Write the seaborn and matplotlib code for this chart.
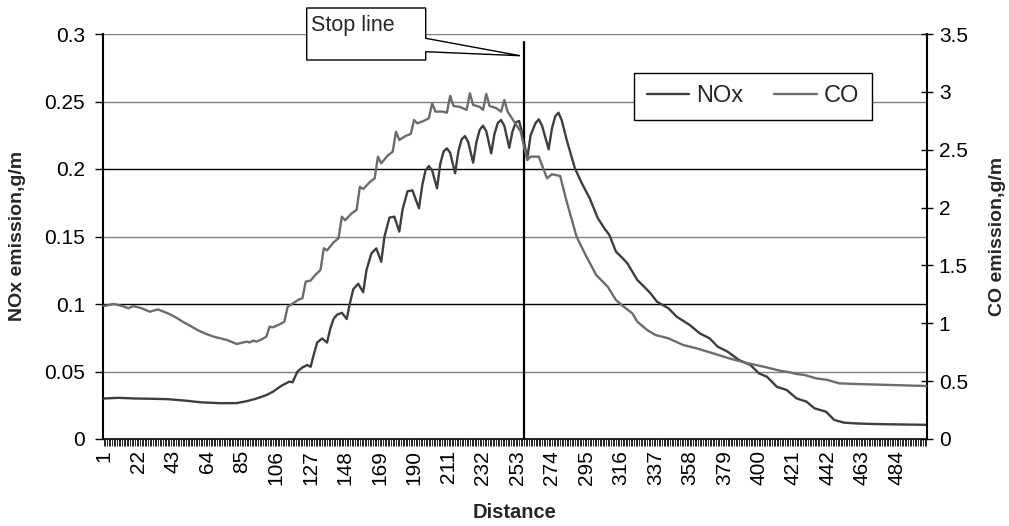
import numpy as np
import pandas as pd
import matplotlib
matplotlib.use("Agg")
import matplotlib.pyplot as plt
import seaborn as sns
from matplotlib.patches import Polygon
from matplotlib.ticker import FixedLocator, FuncFormatter

# ---------------- data ----------------
n_categories = 502

nox_distance = [1, 10, 20, 30, 40, 50, 60, 72, 82, 88, 93, 100, 104, 109, 114, 116,
                119, 122, 125, 127, 129, 131, 134, 137, 139, 141, 143, 146, 149,
                151, 153, 156, 159, 161, 164, 167, 170, 172, 175, 178, 181, 183,
                186, 189, 193, 195, 197, 199, 201, 204, 206, 208, 210, 212, 215,
                217, 219, 221, 223, 226, 228, 230, 232, 234, 237, 239, 241, 243,
                245, 248, 250, 252, 254, 256, 259, 261, 264, 266, 268, 272, 274,
                276, 278, 280, 283, 288, 292, 297, 302, 306, 309, 313, 317, 320,
                326, 330, 334, 338, 345, 350, 358, 364, 370, 375, 381, 388, 395,
                400, 405, 411, 417, 423, 429, 434, 441, 446, 452, 460, 470, 485, 502]
nox_values = [0.0300, 0.0305, 0.0300, 0.0298, 0.0295, 0.0285, 0.0272, 0.0265, 0.0266,
              0.0280, 0.0296, 0.0325, 0.0350, 0.0393, 0.0425, 0.0420,
              0.0500, 0.0530, 0.0548, 0.0535, 0.0630, 0.0715, 0.0745, 0.0714,
              0.0820, 0.0890, 0.0920, 0.0935, 0.0889,
              0.1010, 0.1110, 0.1150, 0.1087, 0.1250, 0.1375, 0.1412, 0.1313,
              0.1500, 0.1640, 0.1647, 0.1536, 0.1700,
              0.1835, 0.1842, 0.1709, 0.1880, 0.1990, 0.2022, 0.1990, 0.1857,
              0.2040, 0.2130, 0.2153, 0.2120, 0.1968,
              0.2130, 0.2220, 0.2244, 0.2200, 0.2047, 0.2200, 0.2290, 0.2321,
              0.2280, 0.2116, 0.2260, 0.2340, 0.2363,
              0.2320, 0.2158, 0.2280, 0.2345, 0.2356, 0.2260, 0.2080, 0.2250,
              0.2340, 0.2368, 0.2320, 0.2146, 0.2300,
              0.2390, 0.2417, 0.2360, 0.2215, 0.2005, 0.1900, 0.1783, 0.1635,
              0.1560, 0.1511, 0.1388, 0.1340, 0.1301,
              0.1178, 0.1130, 0.1080, 0.1017, 0.0968, 0.0906, 0.0844, 0.0783,
              0.0746, 0.0684, 0.0647, 0.0585, 0.0548,
              0.0487, 0.0461, 0.0387, 0.0363, 0.0301, 0.0277, 0.0227, 0.0202,
              0.0141, 0.0121, 0.0115, 0.0111, 0.0108, 0.0105]

co_distance = [1, 7, 12, 16, 19, 24, 29, 34, 40, 45, 49, 54, 58, 63, 68, 72, 76, 82,
               86, 88, 90, 92, 94, 97, 100, 102, 104, 108, 111, 113, 116, 120, 122,
               124, 127, 130, 133, 135, 137, 141, 144, 146, 148, 152, 155, 157, 159,
               163, 166, 168, 170, 174, 177, 179, 181, 185, 188, 190, 192, 196, 199,
               201, 203, 207, 210, 212, 214, 218, 222, 224, 226, 230, 232, 234, 236,
               240, 243, 245, 247, 251, 255, 257, 259, 261, 266, 271, 274, 279, 283,
               289, 295, 301, 308, 313, 318, 323, 326, 332, 337, 345, 354, 362, 372,
               382, 392, 403, 413, 419, 423, 428, 435, 442, 449, 460, 480, 502]
co_values = [1.149, 1.167, 1.150, 1.130, 1.149, 1.130, 1.100, 1.120, 1.086, 1.050,
             1.014, 0.975, 0.942, 0.910, 0.884, 0.870, 0.856, 0.821,
             0.835, 0.841, 0.835, 0.850, 0.841, 0.860, 0.884, 0.971, 0.965, 0.990,
             1.014, 1.143, 1.170, 1.207, 1.216,
             1.360, 1.370, 1.420, 1.461, 1.648, 1.630, 1.700, 1.735, 1.921, 1.890,
             1.950, 1.979, 2.180, 2.160,
             2.220, 2.253, 2.440, 2.383, 2.450, 2.483, 2.656, 2.584, 2.620, 2.636,
             2.757, 2.728, 2.750, 2.772,
             2.901, 2.829, 2.830, 2.820, 2.965, 2.878, 2.870, 2.844, 2.988, 2.887,
             2.870, 2.844, 2.982, 2.878,
             2.860, 2.829, 2.930, 2.829, 2.742, 2.656, 2.526, 2.411, 2.440, 2.440,
             2.253, 2.288, 2.273, 2.051,
             1.749, 1.576, 1.417, 1.316, 1.201, 1.140, 1.086, 1.014, 0.942, 0.899,
             0.870, 0.812, 0.784, 0.741,
             0.697, 0.659, 0.625, 0.590, 0.576, 0.562, 0.553, 0.524, 0.510, 0.481,
             0.475, 0.467, 0.458]

x_tick_values = list(range(1, 485, 21))
nox_ticks = [0, 0.05, 0.1, 0.15, 0.2, 0.25, 0.3]
co_ticks = [0, 0.5, 1, 1.5, 2, 2.5, 3, 3.5]
stop_distance = 257
series_names = ["NOx", "CO"]

# ---------------- figure ----------------
sns.set_theme(style="white")
plt.rcParams['font.family'] = ['Liberation Sans', 'DejaVu Sans']

W, H = 1009, 526
fig = plt.figure(figsize=(W / 100, H / 100), dpi=100)
ax = fig.add_axes([103 / W, (H - 439) / H, 824 / W, 405 / H])
ax2 = ax.twinx()

nox_df = pd.DataFrame({"Distance": nox_distance, "NOx": nox_values})
co_df = pd.DataFrame({"Distance": co_distance, "CO": co_values})

# gridlines (left axis)
grid_colors = ["#808080", "#000000", "#808080", "#000000", "#808080", "#808080"]
for val, col in zip(nox_ticks[1:], grid_colors):
    ax.axhline(val, color=col, lw=1.0, zorder=0)

sns.lineplot(data=nox_df, x="Distance", y="NOx", ax=ax, color="#3e3e3e", lw=1.7,
             legend=False, zorder=3)
h_nox = ax.lines[-1]
sns.lineplot(data=co_df, x="Distance", y="CO", ax=ax2, color="#6c6c6c", lw=1.7,
             legend=False, zorder=3)
h_co = ax2.lines[-1]

# stop line
ax.plot([stop_distance, stop_distance], [0, 0.2943], color="black", lw=1.6, zorder=4)

ax.set_xlim(0.5, n_categories + 0.5)
ax.set_ylim(0, 0.3)
ax2.set_ylim(0, 3.5)

fmt = FuncFormatter(lambda v, p: f"{v:g}")
ax.yaxis.set_major_locator(FixedLocator(nox_ticks))
ax.yaxis.set_major_formatter(fmt)
ax2.yaxis.set_major_locator(FixedLocator(co_ticks))
ax2.yaxis.set_major_formatter(fmt)

ax.xaxis.set_major_locator(FixedLocator(x_tick_values))
ax.set_xticklabels([str(v) for v in x_tick_values], rotation=90)
ax.xaxis.set_minor_locator(FixedLocator(np.arange(1, n_categories + 1)))

ax.tick_params(axis="x", which="both", bottom=True, direction="out", length=5,
               width=0.6, color="black", labelsize=15, pad=3, labelcolor="black")
ax.tick_params(axis="y", left=True, direction="out", length=6, width=1,
               color="black", labelsize=15, pad=7, labelcolor="black")
ax2.tick_params(axis="y", right=True, direction="inout", length=9, width=1,
                color="black", labelsize=15, pad=4, labelcolor="black")

for a in (ax, ax2):
    a.set_xlabel("")
    a.set_ylabel("")
    a.spines["top"].set_visible(False)
ax.spines["right"].set_visible(False)
ax.spines["left"].set_color("black")
ax.spines["left"].set_linewidth(1.5)
ax.spines["bottom"].set_color("black")
ax.spines["bottom"].set_linewidth(1.2)
ax2.spines["left"].set_visible(False)
ax2.spines["bottom"].set_visible(False)
ax2.spines["right"].set_color("black")
ax2.spines["right"].set_linewidth(1.5)

# axis titles
fig.text(18 / W, 1 - 236 / H, "NOx emission,g/m", rotation=90, ha="center",
         va="center", fontsize=14, fontweight="bold")
fig.text(997 / W, 1 - 236 / H, "CO emission,g/m", rotation=90, ha="center",
         va="center", fontsize=14, fontweight="bold")
fig.text(515 / W, 1 - 513 / H, "Distance", ha="center", va="center",
         fontsize=14.5, fontweight="bold")

# legend
leg = ax2.legend([h_nox, h_co], series_names, loc="center",
                 bbox_to_anchor=(0.789, 0.8457), ncol=2, frameon=True,
                 fancybox=False, edgecolor="black", framealpha=1, fontsize=17,
                 handlelength=1.8, handletextpad=0.3, columnspacing=1.3,
                 borderpad=0.55)
leg.get_frame().set_linewidth(1.0)

# "Stop line" callout
pts_px = [(306.7, 8), (425.7, 8), (425.7, 38.3), (520, 55.7), (425.7, 51.7),
          (425.7, 60), (306.7, 60)]
pts = [(x / W, 1 - y / H) for x, y in pts_px]
fig.add_artist(Polygon(pts, closed=True, transform=fig.transFigure,
                       facecolor="white", edgecolor="black", lw=1.0, zorder=5))
fig.text(311 / W, 1 - 25 / H, "Stop line", ha="left", va="center", fontsize=15.5,
         zorder=6)

fig.savefig("out.png", dpi=100)
